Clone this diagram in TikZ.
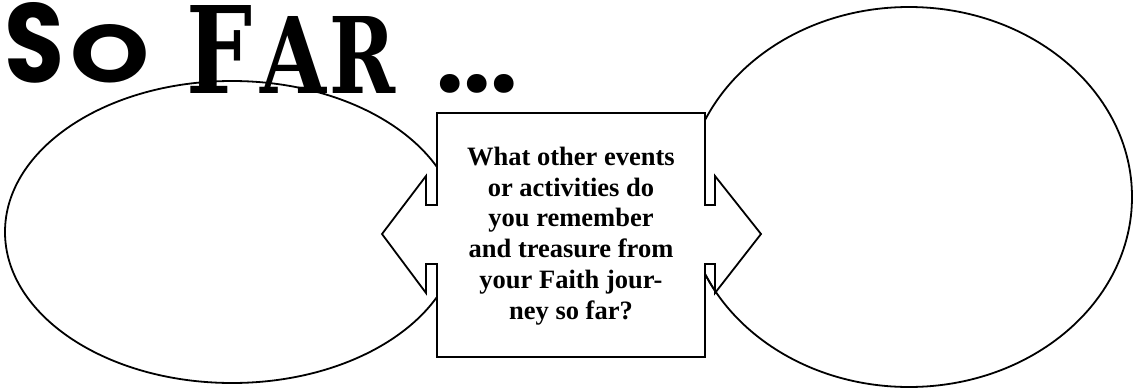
\documentclass[tikz,border=0pt]{standalone}
\usepackage{fontspec}
\setmainfont{Liberation Serif}
\newfontfamily\titlesans{Poppins}
\newfontfamily\titleserif{DejaVu Serif}
\usetikzlibrary{shapes.geometric}
\begin{document}
\begin{tikzpicture}[x=1pt,y=-1pt,
  outline/.style={draw=black,line width=1.8pt},
  bubble/.style={outline,ellipse,inner sep=0pt,fill=none},
  glyph/.style={anchor=south west,inner sep=0pt,outer sep=0pt},
  qtext/.style={align=center,inner sep=0pt,font=\bfseries\fontsize{26.5}{30.8}\selectfont}]
\useasboundingbox (0,0) rectangle (1133,388);
% the two bubbles
\node[bubble,minimum width=454pt,minimum height=302pt] (left) at (232,232) {};
\node[bubble,minimum width=446pt,minimum height=380pt] (right) at (909,197) {};
% title
\node[glyph] (tS) at (5,83) {\resizebox{60pt}{80pt}{\titlesans\bfseries S}};
\node[glyph] (tO) at (70,83) {\resizebox{79pt}{58pt}{\titlesans\bfseries O}};
\node[glyph] (tF) at (186,93) {\resizebox{66pt}{88pt}{\titleserif\bfseries F}};
\node[glyph] (tA) at (260,93) {\resizebox{66pt}{77pt}{\titleserif\bfseries A}};
\node[glyph] (tR) at (329,93) {\resizebox{66pt}{77pt}{\titleserif\bfseries R}};
\node[glyph] (tdots) at (436,93) {\resizebox{82pt}{18pt}{\titlesans\bfseries ...}};
% central box with double arrow
\coordinate (b1) at (437,113);
\coordinate (b2) at (705,113);
\coordinate (b3) at (705,357);
\coordinate (b4) at (437,357);
\path[outline,fill=white]
  (b1) -- (b2) -- (705,205) -- (715,205) -- (715,176) -- (761,234) -- (715,293)
  -- (715,264) -- (705,264) -- (b3) -- (b4) -- (437,264) -- (426,264)
  -- (426,293) -- (382,234) -- (426,176) -- (426,205) -- (437,205) -- cycle;
\begin{scope}
  \clip (706,262) rectangle (716,300);
  \draw[outline] (909,197) ellipse [x radius=223pt,y radius=190pt];
\end{scope}
\node[qtext] (q) at (571,236) {What other events\\or activities do\\you remember\\and treasure from\\your Faith jour-\\ney so far?};
\end{tikzpicture}
\end{document}
